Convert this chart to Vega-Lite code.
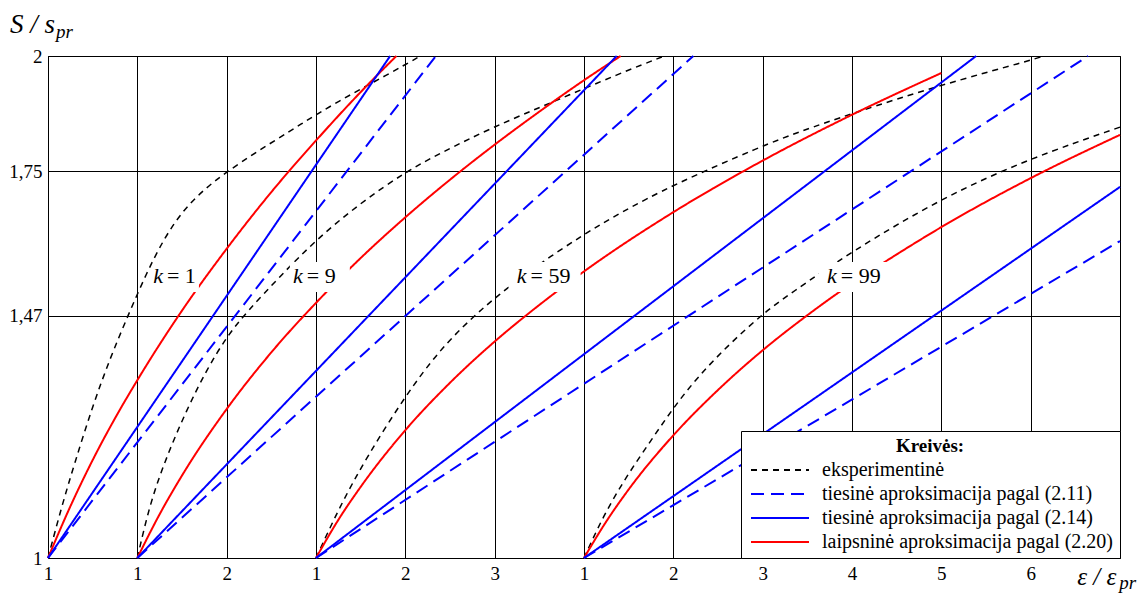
{
  "$schema": "https://vega.github.io/schema/vega-lite/v6.json",
  "width": 1072,
  "height": 502,
  "autosize": "none",
  "padding": {"left": 48, "top": 56, "right": 26, "bottom": 35},
  "background": "white",
  "config": {
    "view": {"stroke": "black", "strokeWidth": 1},
    "font": "Liberation Serif, Times New Roman, DejaVu Serif, serif",
    "legend": {
      "orient": "bottom-right",
      "offset": 0,
      "titleFont": "Liberation Serif, Times New Roman, DejaVu Serif, serif",
      "titleFontSize": 19,
      "titleFontWeight": "bold",
      "titleColor": "black",
      "titleAnchor": "middle",
      "titlePadding": 4,
      "labelFont": "Liberation Serif, Times New Roman, DejaVu Serif, serif",
      "labelFontSize": 20,
      "labelColor": "black",
      "labelLimit": 400,
      "symbolType": "M-5.8,0H5.8",
      "symbolSize": 100,
      "symbolStrokeWidth": 2,
      "symbolOffset": 23,
      "labelOffset": 32,
      "fillColor": "white",
      "strokeColor": "black",
      "padding": 6,
      "rowPadding": 4,
      "cornerRadius": 0
    }
  },
  "datasets": {
    "curves": [
      {"k": 1, "s": "E", "eps": 1, "S": 1},
      {"k": 1, "s": "E", "eps": 1.15, "S": 1.098},
      {"k": 1, "s": "E", "eps": 1.3, "S": 1.185},
      {"k": 1, "s": "E", "eps": 1.5, "S": 1.295},
      {"k": 1, "s": "E", "eps": 1.7, "S": 1.39},
      {"k": 1, "s": "E", "eps": 1.9, "S": 1.472},
      {"k": 1, "s": "E", "eps": 2.1, "S": 1.552},
      {"k": 1, "s": "E", "eps": 2.3, "S": 1.62},
      {"k": 1, "s": "E", "eps": 2.5, "S": 1.672},
      {"k": 1, "s": "E", "eps": 2.75, "S": 1.716},
      {"k": 1, "s": "E", "eps": 3.0, "S": 1.749},
      {"k": 1, "s": "E", "eps": 3.334, "S": 1.788},
      {"k": 1, "s": "E", "eps": 3.707, "S": 1.828},
      {"k": 1, "s": "E", "eps": 4.006, "S": 1.861},
      {"k": 1, "s": "E", "eps": 4.415, "S": 1.902},
      {"k": 1, "s": "E", "eps": 4.77, "S": 1.935},
      {"k": 1, "s": "E", "eps": 5.17, "S": 1.974},

      {"k": 9, "s": "E", "eps": 1, "S": 1},
      {"k": 9, "s": "E", "eps": 1.141, "S": 1.106},
      {"k": 9, "s": "E", "eps": 1.328, "S": 1.197},
      {"k": 9, "s": "E", "eps": 1.551, "S": 1.287},
      {"k": 9, "s": "E", "eps": 1.775, "S": 1.365},
      {"k": 9, "s": "E", "eps": 1.999, "S": 1.429},
      {"k": 9, "s": "E", "eps": 2.223, "S": 1.477},
      {"k": 9, "s": "E", "eps": 2.595, "S": 1.546},
      {"k": 9, "s": "E", "eps": 2.998, "S": 1.617},
      {"k": 9, "s": "E", "eps": 3.49, "S": 1.688},
      {"k": 9, "s": "E", "eps": 4.001, "S": 1.749},
      {"k": 9, "s": "E", "eps": 4.385, "S": 1.785},
      {"k": 9, "s": "E", "eps": 4.981, "S": 1.836},
      {"k": 9, "s": "E", "eps": 5.652, "S": 1.885},
      {"k": 9, "s": "E", "eps": 6.398, "S": 1.94},
      {"k": 9, "s": "E", "eps": 6.9, "S": 1.974},

      {"k": 59, "s": "E", "eps": 1, "S": 1},
      {"k": 59, "s": "E", "eps": 1.266, "S": 1.1},
      {"k": 59, "s": "E", "eps": 1.565, "S": 1.195},
      {"k": 59, "s": "E", "eps": 2.001, "S": 1.315},
      {"k": 59, "s": "E", "eps": 2.385, "S": 1.404},
      {"k": 59, "s": "E", "eps": 2.757, "S": 1.468},
      {"k": 59, "s": "E", "eps": 3.019, "S": 1.507},
      {"k": 59, "s": "E", "eps": 3.466, "S": 1.567},
      {"k": 59, "s": "E", "eps": 3.999, "S": 1.628},
      {"k": 59, "s": "E", "eps": 4.398, "S": 1.669},
      {"k": 59, "s": "E", "eps": 4.994, "S": 1.724},
      {"k": 59, "s": "E", "eps": 6.001, "S": 1.8},
      {"k": 59, "s": "E", "eps": 6.412, "S": 1.827},
      {"k": 59, "s": "E", "eps": 6.99, "S": 1.862},
      {"k": 59, "s": "E", "eps": 7.997, "S": 1.918},
      {"k": 59, "s": "E", "eps": 8.985, "S": 1.965},
      {"k": 59, "s": "E", "eps": 9.15, "S": 1.974},

      {"k": 99, "s": "E", "eps": 1, "S": 1},
      {"k": 99, "s": "E", "eps": 1.211, "S": 1.08},
      {"k": 99, "s": "E", "eps": 1.473, "S": 1.158},
      {"k": 99, "s": "E", "eps": 1.754, "S": 1.229},
      {"k": 99, "s": "E", "eps": 1.994, "S": 1.29},
      {"k": 99, "s": "E", "eps": 2.275, "S": 1.352},
      {"k": 99, "s": "E", "eps": 2.638, "S": 1.417},
      {"k": 99, "s": "E", "eps": 3.01, "S": 1.475},
      {"k": 99, "s": "E", "eps": 3.3, "S": 1.512},
      {"k": 99, "s": "E", "eps": 3.99, "S": 1.594},
      {"k": 99, "s": "E", "eps": 4.997, "S": 1.698},
      {"k": 99, "s": "E", "eps": 5.984, "S": 1.775},
      {"k": 99, "s": "E", "eps": 7.0, "S": 1.836},

      {"k": 1, "s": "L", "eps": 1, "S": 1},
      {"k": 1, "s": "L", "eps": 1.25, "S": 1.1},
      {"k": 1, "s": "L", "eps": 1.5, "S": 1.19},
      {"k": 1, "s": "L", "eps": 1.75, "S": 1.271},
      {"k": 1, "s": "L", "eps": 2, "S": 1.345},
      {"k": 1, "s": "L", "eps": 2.5, "S": 1.48},
      {"k": 1, "s": "L", "eps": 3, "S": 1.6},
      {"k": 1, "s": "L", "eps": 3.5, "S": 1.71},
      {"k": 1, "s": "L", "eps": 4, "S": 1.81},
      {"k": 1, "s": "L", "eps": 4.5, "S": 1.904},
      {"k": 1, "s": "L", "eps": 4.9, "S": 1.974},

      {"k": 9, "s": "L", "eps": 1, "S": 1},
      {"k": 9, "s": "L", "eps": 1.25, "S": 1.085},
      {"k": 9, "s": "L", "eps": 1.5, "S": 1.16},
      {"k": 9, "s": "L", "eps": 2, "S": 1.289},
      {"k": 9, "s": "L", "eps": 2.5, "S": 1.399},
      {"k": 9, "s": "L", "eps": 3, "S": 1.495},
      {"k": 9, "s": "L", "eps": 3.5, "S": 1.582},
      {"k": 9, "s": "L", "eps": 4, "S": 1.661},
      {"k": 9, "s": "L", "eps": 4.5, "S": 1.734},
      {"k": 9, "s": "L", "eps": 5, "S": 1.802},
      {"k": 9, "s": "L", "eps": 5.5, "S": 1.866},
      {"k": 9, "s": "L", "eps": 6, "S": 1.927},
      {"k": 9, "s": "L", "eps": 6.41, "S": 1.974},

      {"k": 59, "s": "L", "eps": 1, "S": 1},
      {"k": 59, "s": "L", "eps": 1.25, "S": 1.074},
      {"k": 59, "s": "L", "eps": 1.5, "S": 1.138},
      {"k": 59, "s": "L", "eps": 2, "S": 1.248},
      {"k": 59, "s": "L", "eps": 2.5, "S": 1.34},
      {"k": 59, "s": "L", "eps": 3, "S": 1.42},
      {"k": 59, "s": "L", "eps": 3.5, "S": 1.491},
      {"k": 59, "s": "L", "eps": 4, "S": 1.556},
      {"k": 59, "s": "L", "eps": 5, "S": 1.671},
      {"k": 59, "s": "L", "eps": 6, "S": 1.771},
      {"k": 59, "s": "L", "eps": 7, "S": 1.86},
      {"k": 59, "s": "L", "eps": 8, "S": 1.941},

      {"k": 99, "s": "L", "eps": 1, "S": 1},
      {"k": 99, "s": "L", "eps": 1.25, "S": 1.071},
      {"k": 99, "s": "L", "eps": 1.5, "S": 1.133},
      {"k": 99, "s": "L", "eps": 2, "S": 1.238},
      {"k": 99, "s": "L", "eps": 2.5, "S": 1.326},
      {"k": 99, "s": "L", "eps": 3, "S": 1.403},
      {"k": 99, "s": "L", "eps": 3.5, "S": 1.471},
      {"k": 99, "s": "L", "eps": 4, "S": 1.533},
      {"k": 99, "s": "L", "eps": 4.5, "S": 1.589},
      {"k": 99, "s": "L", "eps": 5, "S": 1.642},
      {"k": 99, "s": "L", "eps": 6, "S": 1.737},
      {"k": 99, "s": "L", "eps": 7, "S": 1.821},

      {"k": 1, "s": "T14", "eps": 1, "S": 1},
      {"k": 1, "s": "T14", "eps": 4.83, "S": 1.974},
      {"k": 9, "s": "T14", "eps": 1, "S": 1},
      {"k": 9, "s": "T14", "eps": 6.366, "S": 1.974},
      {"k": 59, "s": "T14", "eps": 1, "S": 1},
      {"k": 59, "s": "T14", "eps": 8.39, "S": 1.974},
      {"k": 99, "s": "T14", "eps": 1, "S": 1},
      {"k": 99, "s": "T14", "eps": 7.0, "S": 1.72},

      {"k": 1, "s": "T11", "eps": 1, "S": 1},
      {"k": 1, "s": "T11", "eps": 5.342, "S": 1.974},
      {"k": 9, "s": "T11", "eps": 1, "S": 1},
      {"k": 9, "s": "T11", "eps": 7.224, "S": 1.974},
      {"k": 59, "s": "T11", "eps": 1, "S": 1},
      {"k": 59, "s": "T11", "eps": 9.643, "S": 1.974},
      {"k": 99, "s": "T11", "eps": 1, "S": 1},
      {"k": 99, "s": "T11", "eps": 7.0, "S": 1.615}
    ],
    "klabels": [
      {"k": 1, "lab": "= 1", "u": 1.309, "S": 1.5335},
      {"k": 9, "lab": "= 9", "u": 2.875, "S": 1.5335},
      {"k": 59, "lab": "= 59", "u": 5.38, "S": 1.5335},
      {"k": 99, "lab": "= 99", "u": 8.853, "S": 1.5335}
    ]
  },
  "encoding": {
    "x": {
      "field": "u",
      "type": "quantitative",
      "scale": {"domain": [0, 12], "nice": false, "zero": false},
      "axis": {
        "values": [0, 1, 2, 3, 4, 5, 6, 7, 8, 9, 10, 11, 12],
        "labelExpr": "['1','1','2','1','2','3','1','2','3','4','5','6',''][datum.value]",
        "title": null,
        "grid": true,
        "gridColor": "black",
        "gridOpacity": 1,
        "gridWidth": 1,
        "domainColor": "black",
        "ticks": false,
        "labelFont": "Liberation Serif, Times New Roman, DejaVu Serif, serif",
        "labelFontSize": 19,
        "labelColor": "black",
        "labelPadding": 6,
        "labelFlush": false,
        "labelOverlap": false
      }
    },
    "y": {
      "field": "S",
      "type": "quantitative",
      "scale": {"domain": [1, 1.974], "nice": false, "zero": false},
      "axis": {
        "values": [1, 1.47, 1.75, 1.974],
        "labelExpr": "datum.value > 1.9 ? '2' : datum.value < 1.01 ? '1' : datum.value < 1.6 ? '1,47' : '1,75'",
        "title": null,
        "grid": true,
        "gridColor": "black",
        "gridOpacity": 1,
        "gridWidth": 1,
        "domainColor": "black",
        "ticks": false,
        "labelFont": "Liberation Serif, Times New Roman, DejaVu Serif, serif",
        "labelFontSize": 19,
        "labelColor": "black",
        "labelPadding": 6,
        "labelFlush": false,
        "labelOverlap": false
      }
    }
  },
  "layer": [
    {
      "data": {"name": "curves"},
      "transform": [
        {"filter": "datum.s == 'E'"},
        {"calculate": "datum.eps - 1 + (datum.k == 1 ? 0 : datum.k == 9 ? 1 : datum.k == 59 ? 3 : 6)", "as": "u"}
      ],
      "mark": {"type": "line", "strokeWidth": 1.5, "interpolate": "basis", "strokeCap": "butt"},
      "encoding": {
        "color": {
          "field": "s", "type": "nominal",
          "scale": {"domain": ["E", "T11", "T14", "L"], "range": ["#000000", "#0000ff", "#0000ff", "#ff0000"]},
          "legend": {"title": "Kreivės:", "labelExpr": "datum.label == 'E' ? 'eksperimentinė' : datum.label == 'T11' ? 'tiesinė aproksimacija pagal (2.11)' : datum.label == 'T14' ? 'tiesinė aproksimacija pagal (2.14)' : 'laipsninė aproksimacija pagal (2.20)'"}
        },
        "strokeDash": {
          "field": "s", "type": "nominal",
          "scale": {"domain": ["E", "T11", "T14", "L"], "range": [[6, 5], [13, 7], [1, 0], [1, 0]]},
          "legend": {"title": "Kreivės:", "labelExpr": "datum.label == 'E' ? 'eksperimentinė' : datum.label == 'T11' ? 'tiesinė aproksimacija pagal (2.11)' : datum.label == 'T14' ? 'tiesinė aproksimacija pagal (2.14)' : 'laipsninė aproksimacija pagal (2.20)'"}
        },
        "detail": {"field": "k", "type": "nominal"}
      }
    },
    {
      "data": {"name": "curves"},
      "transform": [
        {"filter": "datum.s != 'E'"},
        {"calculate": "datum.eps - 1 + (datum.k == 1 ? 0 : datum.k == 9 ? 1 : datum.k == 59 ? 3 : 6)", "as": "u"}
      ],
      "mark": {"type": "line", "strokeWidth": 2, "interpolate": "monotone", "strokeCap": "butt"},
      "encoding": {
        "color": {
          "field": "s", "type": "nominal",
          "scale": {"domain": ["E", "T11", "T14", "L"], "range": ["#000000", "#0000ff", "#0000ff", "#ff0000"]},
          "legend": {"title": "Kreivės:", "labelExpr": "datum.label == 'E' ? 'eksperimentinė' : datum.label == 'T11' ? 'tiesinė aproksimacija pagal (2.11)' : datum.label == 'T14' ? 'tiesinė aproksimacija pagal (2.14)' : 'laipsninė aproksimacija pagal (2.20)'"}
        },
        "strokeDash": {
          "field": "s", "type": "nominal",
          "scale": {"domain": ["E", "T11", "T14", "L"], "range": [[6, 5], [13, 7], [1, 0], [1, 0]]},
          "legend": {"title": "Kreivės:", "labelExpr": "datum.label == 'E' ? 'eksperimentinė' : datum.label == 'T11' ? 'tiesinė aproksimacija pagal (2.11)' : datum.label == 'T14' ? 'tiesinė aproksimacija pagal (2.14)' : 'laipsninė aproksimacija pagal (2.20)'"}
        },
        "detail": {"field": "k", "type": "nominal"}
      }
    },
    {
      "data": {"name": "klabels"},
      "transform": [{"filter": "datum.k == 1"}],
      "mark": {"type": "point", "shape": "M-2.3,-1.5H2.3V1.5H-2.3Z", "size": 400, "filled": true, "color": "white", "opacity": 1, "strokeWidth": 0, "xOffset": 11, "yOffset": -6}
    },
    {
      "data": {"name": "klabels"},
      "transform": [{"filter": "datum.k == 9"}],
      "mark": {"type": "point", "shape": "M-3,-1.5H3V1.5H-3Z", "size": 400, "filled": true, "color": "white", "opacity": 1, "strokeWidth": 0, "xOffset": 15, "yOffset": -6}
    },
    {
      "data": {"name": "klabels"},
      "transform": [{"filter": "datum.k >= 10"}],
      "mark": {"type": "point", "shape": "M-3.6,-1.5H3.6V1.5H-3.6Z", "size": 400, "filled": true, "color": "white", "opacity": 1, "strokeWidth": 0, "xOffset": 16, "yOffset": -6}
    },
    {
      "data": {"name": "klabels"},
      "mark": {"type": "text", "text": "k", "align": "right", "baseline": "alphabetic", "font": "Liberation Serif, Times New Roman, DejaVu Serif, serif", "fontStyle": "italic", "fontSize": 22, "dx": -2, "color": "black"}
    },
    {
      "data": {"name": "klabels"},
      "mark": {"type": "text", "align": "left", "baseline": "alphabetic", "font": "Liberation Serif, Times New Roman, DejaVu Serif, serif", "fontSize": 22, "dx": 2, "color": "black"},
      "encoding": {"text": {"field": "lab", "type": "nominal"}}
    },
    {
      "data": {"values": [{"t": "S / s", "u": -0.425, "S": 2.0185}]},
      "mark": {"type": "text", "align": "left", "baseline": "alphabetic", "font": "Liberation Serif, Times New Roman, DejaVu Serif, serif", "fontStyle": "italic", "fontSize": 27, "color": "black"},
      "encoding": {"text": {"field": "t", "type": "nominal"}}
    },
    {
      "data": {"values": [{"t": "ε / ε", "u": 11.521, "S": 0.9476}]},
      "mark": {"type": "text", "align": "left", "baseline": "alphabetic", "font": "Liberation Serif, Times New Roman, DejaVu Serif, serif", "fontStyle": "italic", "fontSize": 25, "color": "black"},
      "encoding": {"text": {"field": "t", "type": "nominal"}}
    },
    {
      "data": {"values": [{"t": "pr", "u": 0.089, "S": 2.0088}, {"t": "pr", "u": 11.991, "S": 0.94}]},
      "mark": {"type": "text", "align": "left", "baseline": "alphabetic", "font": "Liberation Serif, Times New Roman, DejaVu Serif, serif", "fontStyle": "italic", "fontSize": 19, "color": "black"},
      "encoding": {"text": {"field": "t", "type": "nominal"}}
    }
  ]
}
